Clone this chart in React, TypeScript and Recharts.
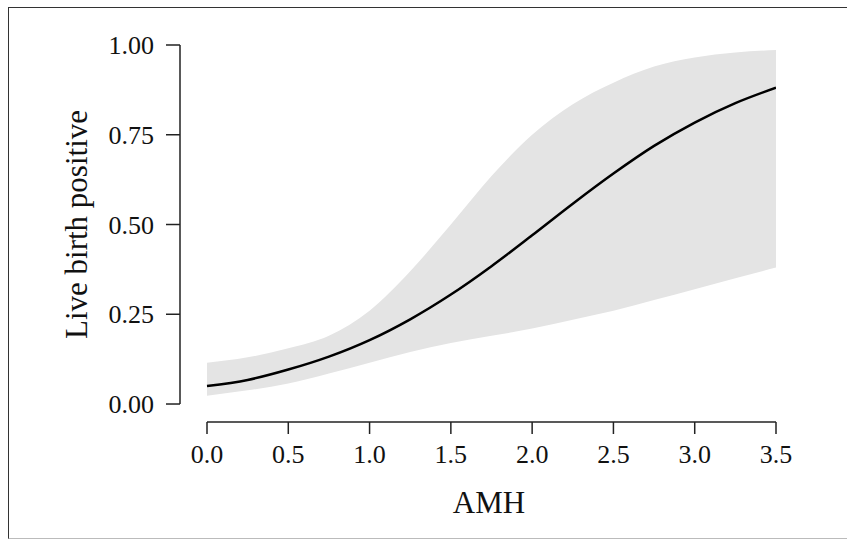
import React from 'react';
import { ComposedChart, Area, Line, XAxis, YAxis, ReferenceLine } from 'recharts';

// values, step of 0.25 AMH
const amh = [0, 0.25, 0.5, 0.75, 1.0, 1.25, 1.5, 1.75, 2.0, 2.25, 2.5, 2.75, 3.0, 3.25, 3.5];
const fit = [0.05, 0.067, 0.096, 0.132, 0.178, 0.236, 0.305, 0.384, 0.47, 0.558, 0.642, 0.719, 0.784, 0.838, 0.881];
const lower = [0.023, 0.038, 0.057, 0.085, 0.115, 0.145, 0.17, 0.19, 0.21, 0.235, 0.26, 0.29, 0.32, 0.35, 0.38];
const upper = [0.115, 0.13, 0.155, 0.19, 0.26, 0.37, 0.5, 0.635, 0.75, 0.835, 0.895, 0.94, 0.965, 0.979, 0.986];

const xTicks = [0, 0.5, 1.0, 1.5, 2.0, 2.5, 3.0, 3.5];
const yTicks = [0, 0.25, 0.5, 0.75, 1.0];

// axes are drawn detached from the data region (base R style)
const X_MIN = -0.1661;
const Y_MIN = -0.0501;

const data = amh.map((x, i) => ({ amh: x, fit: fit[i], band: [lower[i], upper[i]] }));

const FONT = '"Liberation Serif", "Times New Roman", serif';
const INK = '#222';

export default function App() {
  return (
    <div style={{ position: 'absolute', left: 0, top: 0, width: 847, height: 540, background: '#fff', overflow: 'hidden' }}>
      <div
        style={{
          position: 'absolute',
          left: 8,
          top: 7,
          width: 850,
          height: 532,
          boxSizing: 'border-box',
          borderTop: '1.5px solid #333',
          borderLeft: '1.5px solid #333',
          borderBottom: '1.5px solid #bbb',
        }}
      />
      <div style={{ position: 'absolute', left: 0, top: 0 }}>
        <ComposedChart width={847} height={540} data={data} margin={{ top: 45, right: 71, bottom: 18, left: 70 }}>
          <XAxis
            dataKey="amh"
            type="number"
            domain={[X_MIN, 3.5]}
            ticks={xTicks}
            allowDataOverflow
            axisLine={false}
            tickLine={{ stroke: INK, strokeWidth: 1.5 }}
            tickSize={12}
            tickMargin={11}
            height={100}
            tick={{ fill: '#111', fontSize: 26, fontFamily: FONT }}
            tickFormatter={(v: number) => v.toFixed(1)}
            label={{ value: 'AMH', position: 'insideBottom', offset: 9, dx: 11, fill: '#111', fontSize: 31, fontFamily: FONT }}
          />
          <YAxis
            type="number"
            domain={[Y_MIN, 1]}
            ticks={yTicks}
            allowDataOverflow
            axisLine={false}
            tickLine={{ stroke: INK, strokeWidth: 1.5 }}
            tickSize={14}
            tickMargin={12}
            width={110}
            tick={{ fill: '#111', fontSize: 26, fontFamily: FONT }}
            tickFormatter={(v: number) => v.toFixed(2)}
            label={{
              value: 'Live birth positive',
              angle: -90,
              position: 'insideLeft',
              offset: 6,
              dy: -9,
              fill: '#111',
              fontSize: 31,
              fontFamily: FONT,
              style: { textAnchor: 'middle' },
            }}
          />
          <Area
            dataKey="band"
            type="monotone"
            fill="#e4e4e4"
            fillOpacity={1}
            stroke="none"
            isAnimationActive={false}
            dot={false}
            activeDot={false}
          />
          <Line
            dataKey="fit"
            type="monotone"
            stroke="#000"
            strokeWidth={2.5}
            dot={false}
            activeDot={false}
            isAnimationActive={false}
          />
          <ReferenceLine
            segment={[{ x: 0, y: Y_MIN }, { x: 3.5, y: Y_MIN }]}
            stroke={INK}
            strokeWidth={1.5}
            ifOverflow="visible"
          />
          <ReferenceLine
            segment={[{ x: X_MIN, y: 0 }, { x: X_MIN, y: 1 }]}
            stroke={INK}
            strokeWidth={1.5}
            ifOverflow="visible"
          />
        </ComposedChart>
      </div>
    </div>
  );
}
